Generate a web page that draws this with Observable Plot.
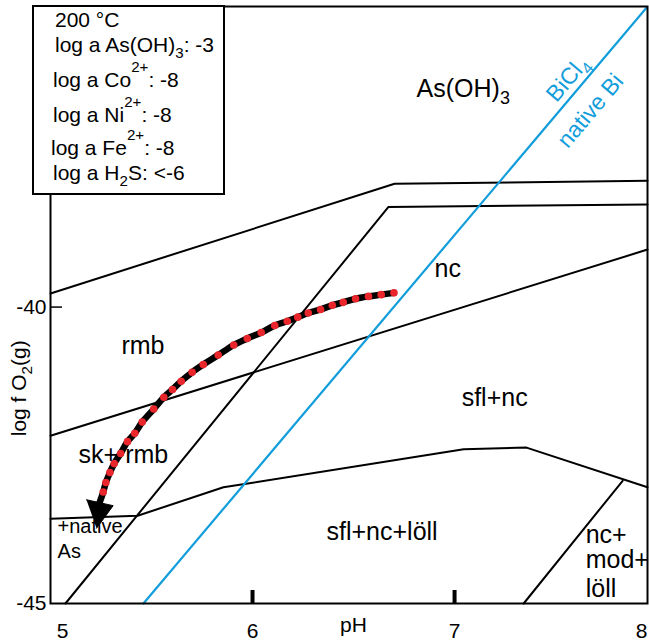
<!DOCTYPE html>
<html><head><meta charset="utf-8">
<script src="https://cdn.jsdelivr.net/npm/d3@7"></script>
<script src="https://cdn.jsdelivr.net/npm/@observablehq/plot@0.6"></script>
<style>
body{margin:0;background:#fff;}
#chart{position:relative;width:649px;height:642px;}
</style>
</head><body><div id="chart"></div>
<script>
const FONT = "'Liberation Sans', Arial, Helvetica, sans-serif";
const BLUE = "#129ddb";
const RED = "#e8262b";

// ---- data ----
// phase boundaries: pH and log fO2 vertices
const boundaryIds = ["upper", "nc-diag", "rmb-sk", "lower", "mod"];
const boundaryPH = [
  [5, 6.703, 7.955],
  [5.074, 6.673, 7.955],
  [5, 7.955],
  [5, 5.431, 5.856, 7.045, 7.356, 7.955],
  [7.342, 7.832]
];
const boundaryLogO2 = [
  [-39.77, -37.92, -37.87],
  [-45, -38.31, -38.27],
  [-42.17, -39.03],
  [-43.57, -43.52, -43.04, -42.40, -42.37, -43.04],
  [-45, -42.93]
];

// BiCl4 / native Bi boundary
const biPH = [5.46, 7.95];
const biLogO2 = [-45, -34.95];

// cooling path (dots)
const pathPH = [6.700, 6.637, 6.574, 6.510, 6.449, 6.395, 6.337, 6.276, 6.224, 6.172, 6.110, 6.043, 5.974, 5.907, 5.830, 5.756, 5.701, 5.647, 5.604, 5.561, 5.511, 5.454, 5.417, 5.381, 5.347, 5.315, 5.294, 5.274, 5.261];
const pathLogO2 = [-39.76, -39.79, -39.82, -39.86, -39.92, -39.97, -40.04, -40.10, -40.17, -40.24, -40.31, -40.43, -40.53, -40.64, -40.81, -40.97, -41.10, -41.25, -41.39, -41.52, -41.72, -41.94, -42.13, -42.27, -42.47, -42.64, -42.79, -42.96, -43.12];
const pathEnd = [5.243, -43.30];
// arrow head vertices
const arrowPH = [5.178, 5.310, 5.228];
const arrowLogO2 = [-43.25, -43.35, -43.73];

// field labels
const fieldText = ["As(OH)_{3}", "nc", "rmb", "sfl+nc", "sk+ rmb", "sfl+nc+löll", "nc+", "mod+", "löll"];
const fieldPH = [6.812, 6.901, 5.351, 7.035, 5.139, 6.366, 7.649, 7.649, 7.649];
const fieldLogO2 = [-36.33, -39.35, -40.65, -41.54, -42.49, -43.79, -43.84, -44.27, -44.75];
const smallText = ["+native", "As"];
const smallPH = [5.035, 5.035];
const smallLogO2 = [-43.71, -44.12];

const biText = ["BiCl_{4}", "native Bi"];
const biLabelPH = [7.559, 7.673];
const biLabelLogO2 = [-36.15, -36.69];

const xTickLabels = [5, 6, 7, 8];
const xTickMarks = [6, 7];
const yTickLabels = [-40, -45];
const yTickMarks = [-40];
const xTitle = "pH";
const yTitle = "log f O_{2}(g)";

const legendLines = ["200 °C", "log a As(OH)_{3}: -3", "log a Co^{2+}: -8", "log a Ni^{2+}: -8", "log a Fe^{2+}: -8", "log a H_{2}S: <-6"];

// ---- build tables ----
const boundaries = boundaryIds.flatMap((id, i) => boundaryPH[i].map((p, j) => ({id, pH: p, logO2: boundaryLogO2[i][j]})));
const biLine = biPH.map((p, i) => ({pH: p, logO2: biLogO2[i]}));
const dots = pathPH.map((p, i) => ({pH: p, logO2: pathLogO2[i]}));
const pathLine = [...dots, {pH: pathEnd[0], logO2: pathEnd[1]}];
const arrowHead = arrowPH.map((p, i) => ({pH: p, logO2: arrowLogO2[i]}));
const fields = fieldText.map((t, i) => ({t, pH: fieldPH[i], logO2: fieldLogO2[i]}));
const smalls = smallText.map((t, i) => ({t, pH: smallPH[i], logO2: smallLogO2[i]}));
const biLabels = biText.map((t, i) => ({t, pH: biLabelPH[i], logO2: biLabelLogO2[i]}));

const plot = Plot.plot({
  width: 649, height: 642,
  marginLeft: 50, marginRight: 2, marginTop: 6, marginBottom: 39,
  x: {domain: [5, 7.955], axis: null},
  y: {domain: [-45, -34.93], axis: null},
  style: {fontFamily: FONT, fontSize: "20px", color: "black", background: "white", overflow: "visible"},
  marks: [
    Plot.line(boundaries, {x: "pH", y: "logO2", z: "id", stroke: "black", strokeWidth: 2}),
    Plot.line(biLine, {x: "pH", y: "logO2", stroke: BLUE, strokeWidth: 2.2}),
    Plot.ruleX(xTickMarks, {x: d => d, stroke: "black", strokeWidth: 4, insetTop: 584}),
    Plot.ruleY(yTickMarks, {y: d => d, stroke: "black", strokeWidth: 1.5, insetRight: 585}),
    Plot.frame({stroke: "black", strokeWidth: 2}),
    Plot.line(pathLine, {x: "pH", y: "logO2", stroke: "black", strokeWidth: 6.5, curve: "catmull-rom"}),
    Plot.dot(dots, {x: "pH", y: "logO2", r: 3.8, fill: RED}),
    Plot.line(arrowHead, {x: "pH", y: "logO2", fill: "black", stroke: "black", strokeWidth: 1}),
    Plot.text(fields, {x: "pH", y: "logO2", text: "t", textAnchor: "start", fontSize: 25}),
    Plot.text(smalls, {x: "pH", y: "logO2", text: "t", textAnchor: "start", fontSize: 20}),
    Plot.text(biLabels, {x: "pH", y: "logO2", text: "t", rotate: -49.8, fill: BLUE, fontSize: 23}),
    // tick labels
    Plot.text(xTickLabels.filter(d => d === 6 || d === 7), {x: d => d, text: d => String(d), frameAnchor: "bottom", dy: 34, fontSize: 21}),
    Plot.text(xTickLabels.filter(d => d === 5), {x: d => d, text: d => String(d), frameAnchor: "bottom", dy: 34, dx: 12, fontSize: 21}),
    Plot.text(xTickLabels.filter(d => d === 8), {x: d => d, text: d => String(d), frameAnchor: "bottom", dy: 34, dx: -15, fontSize: 21}),
    Plot.text(yTickLabels, {y: d => d, text: d => String(d), frameAnchor: "left", textAnchor: "end", dx: -4, fontSize: 21}),
    // axis titles
    Plot.text([xTitle], {x: () => 6.5, frameAnchor: "bottom", dy: 28, fontSize: 21}),
    Plot.text([yTitle], {y: () => -41.37, frameAnchor: "left", textAnchor: "middle", lineAnchor: "middle", dx: -31, rotate: -90, fontSize: 21})
  ]
});

document.getElementById("chart").appendChild(plot);

// legend box
const svg = d3.select(plot);
const lg = svg.append("g").attr("font-family", FONT).attr("font-size", 21).attr("text-anchor", "start");
lg.append("rect").attr("x", 33).attr("y", 6).attr("width", 191).attr("height", 188)
  .attr("fill", "white").attr("stroke", "black").attr("stroke-width", 2);
const legendX = [55, 55, 53, 53, 51, 53];
const legendY = [27, 52, 87, 122, 155, 180];
legendLines.forEach((s, i) => {
  lg.append("text").attr("x", legendX[i]).attr("y", legendY[i]).attr("fill", "black").text(s);
});

// rich text: _{sub} and ^{sup}
function richText(root) {
  root.querySelectorAll("text").forEach(el => {
    const targets = el.querySelector("tspan") ? [...el.querySelectorAll("tspan")] : [el];
    for (const t of targets) {
      const s = t.textContent;
      if (!/[_^]\{/.test(s)) continue;
      const fs = parseFloat(getComputedStyle(t).fontSize) || 20;
      t.textContent = "";
      const parts = s.split(/([_^]\{[^}]*\})/);
      let shift = 0;
      for (const p of parts) {
        if (!p) continue;
        const m = p.match(/^([_^])\{([^}]*)\}$/);
        const ts = document.createElementNS("http://www.w3.org/2000/svg", "tspan");
        if (m) {
          const d = m[1] === "_" ? 0.28 * fs : -0.72 * fs;
          ts.setAttribute("dy", d - shift);
          shift = d;
          ts.setAttribute("font-size", 0.72 * fs);
          ts.textContent = m[2];
        } else {
          ts.setAttribute("dy", -shift);
          shift = 0;
          ts.textContent = p;
        }
        t.appendChild(ts);
      }
    }
  });
}
richText(plot);
</script>
</body></html>
